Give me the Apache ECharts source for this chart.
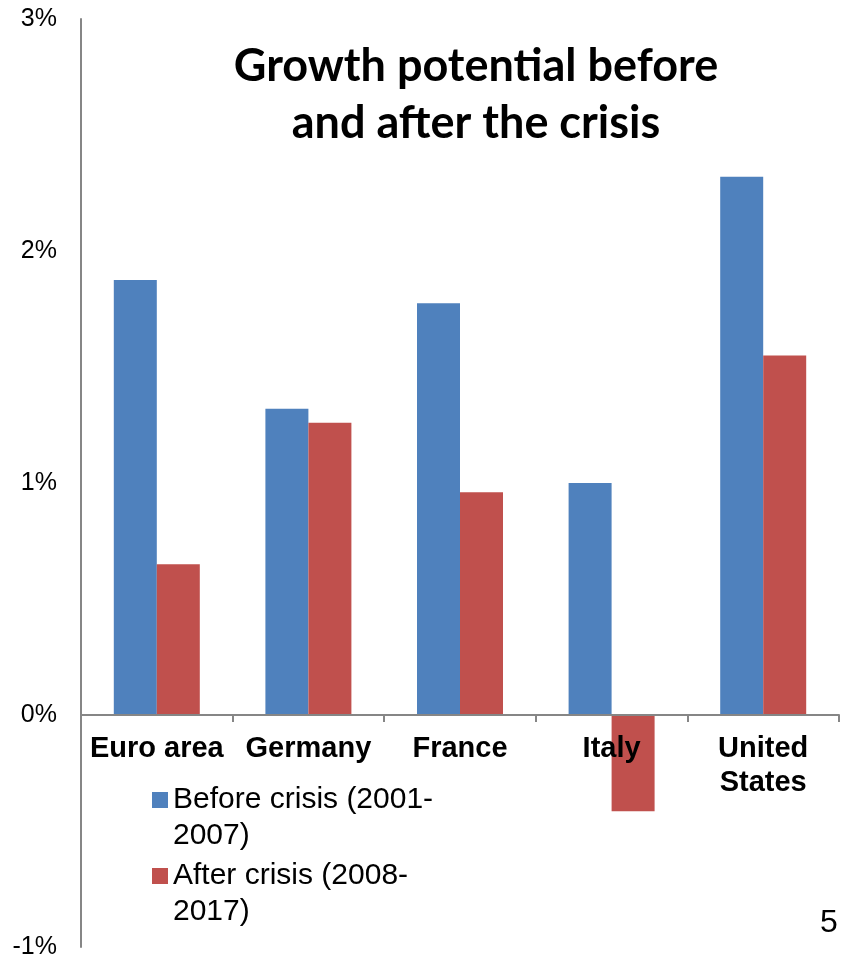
<!DOCTYPE html>
<html>
<head>
<meta charset="utf-8">
<script src="https://cdn.jsdelivr.net/npm/echarts@6/dist/echarts.min.js"></script>
<style>html,body{margin:0;padding:0;background:#fff}#c{width:846px;height:966px}</style>
</head>
<body>
<div id="c"></div>
<script>
const categories = ['Euro area', 'Germany', 'France', 'Italy', 'United\nStates'];
const beforeCrisis = [1.875, 1.32, 1.775, 1.0, 2.32];
const afterCrisis = [0.65, 1.26, 0.96, -0.415, 1.55];
const seriesNames = ['Before crisis (2001-\n2007)', 'After crisis (2008-\n2017)'];
const yTicks = { min: -1, max: 3, interval: 1 };

const gridTop = 19, gridBottom = 19, chartH = 966;
const plotH = chartH - gridTop - gridBottom;
// distance from grid bottom up to the zero line
const zeroOffset = plotH * (0 - yTicks.min) / (yTicks.max - yTicks.min);

const chart = echarts.init(document.getElementById('c'));
chart.setOption({
  animation: false,
  backgroundColor: '#fff',
  title: [
    {
      text: 'Growth potential before\nand after the crisis',
      left: 471, top: 33, textAlign: 'center',
      textStyle: { fontFamily: 'Lato', fontWeight: 'bold', fontSize: 45, lineHeight: 57, color: '#000' }
    },
    {
      text: '5', left: 815, top: 902,
      textStyle: { fontFamily: 'Liberation Sans, Arial', fontWeight: 'normal', fontSize: 32, color: '#000' }
    }
  ],
  legend: {
    orient: 'vertical',
    left: 147, top: 741,
    itemWidth: 16, itemHeight: 16,
    itemGap: -32,
    icon: 'rect',
    data: seriesNames,
    formatter: function (name) { return ' \n' + name; },
    textStyle: { fontFamily: 'Liberation Sans, Arial', fontSize: 30, lineHeight: 36, color: '#000' }
  },
  grid: { left: 81, right: 7, top: gridTop, bottom: gridBottom, containLabel: false, outerBoundsMode: 'none' },
  xAxis: {
    type: 'category',
    data: categories,
    z: 5,
    offset: -zeroOffset,
    axisLine: { onZero: false, lineStyle: { color: '#868686', width: 2 } },
    axisTick: { show: true, length: 7, lineStyle: { color: '#868686', width: 2 } },
    axisLabel: { margin: 17, fontFamily: 'Liberation Sans, Arial', fontWeight: 'bold', fontSize: 29, lineHeight: 34, color: '#000', interval: 0 }
  },
  yAxis: {
    type: 'value',
    min: yTicks.min, max: yTicks.max, interval: yTicks.interval,
    axisLine: { show: true, lineStyle: { color: '#868686', width: 2 } },
    axisTick: { show: false },
    splitLine: { show: false },
    axisLabel: { margin: 24, formatter: '{value}%', fontFamily: 'Liberation Sans, Arial', fontSize: 25, color: '#000' }
  },
  series: [
    { name: seriesNames[0], type: 'bar', data: beforeCrisis, barWidth: 43, barGap: '0%', itemStyle: { color: '#4F81BD' } },
    { name: seriesNames[1], type: 'bar', data: afterCrisis, barWidth: 43, barGap: '0%', itemStyle: { color: '#C0504D' } }
  ]
});
</script>
</body>
</html>
